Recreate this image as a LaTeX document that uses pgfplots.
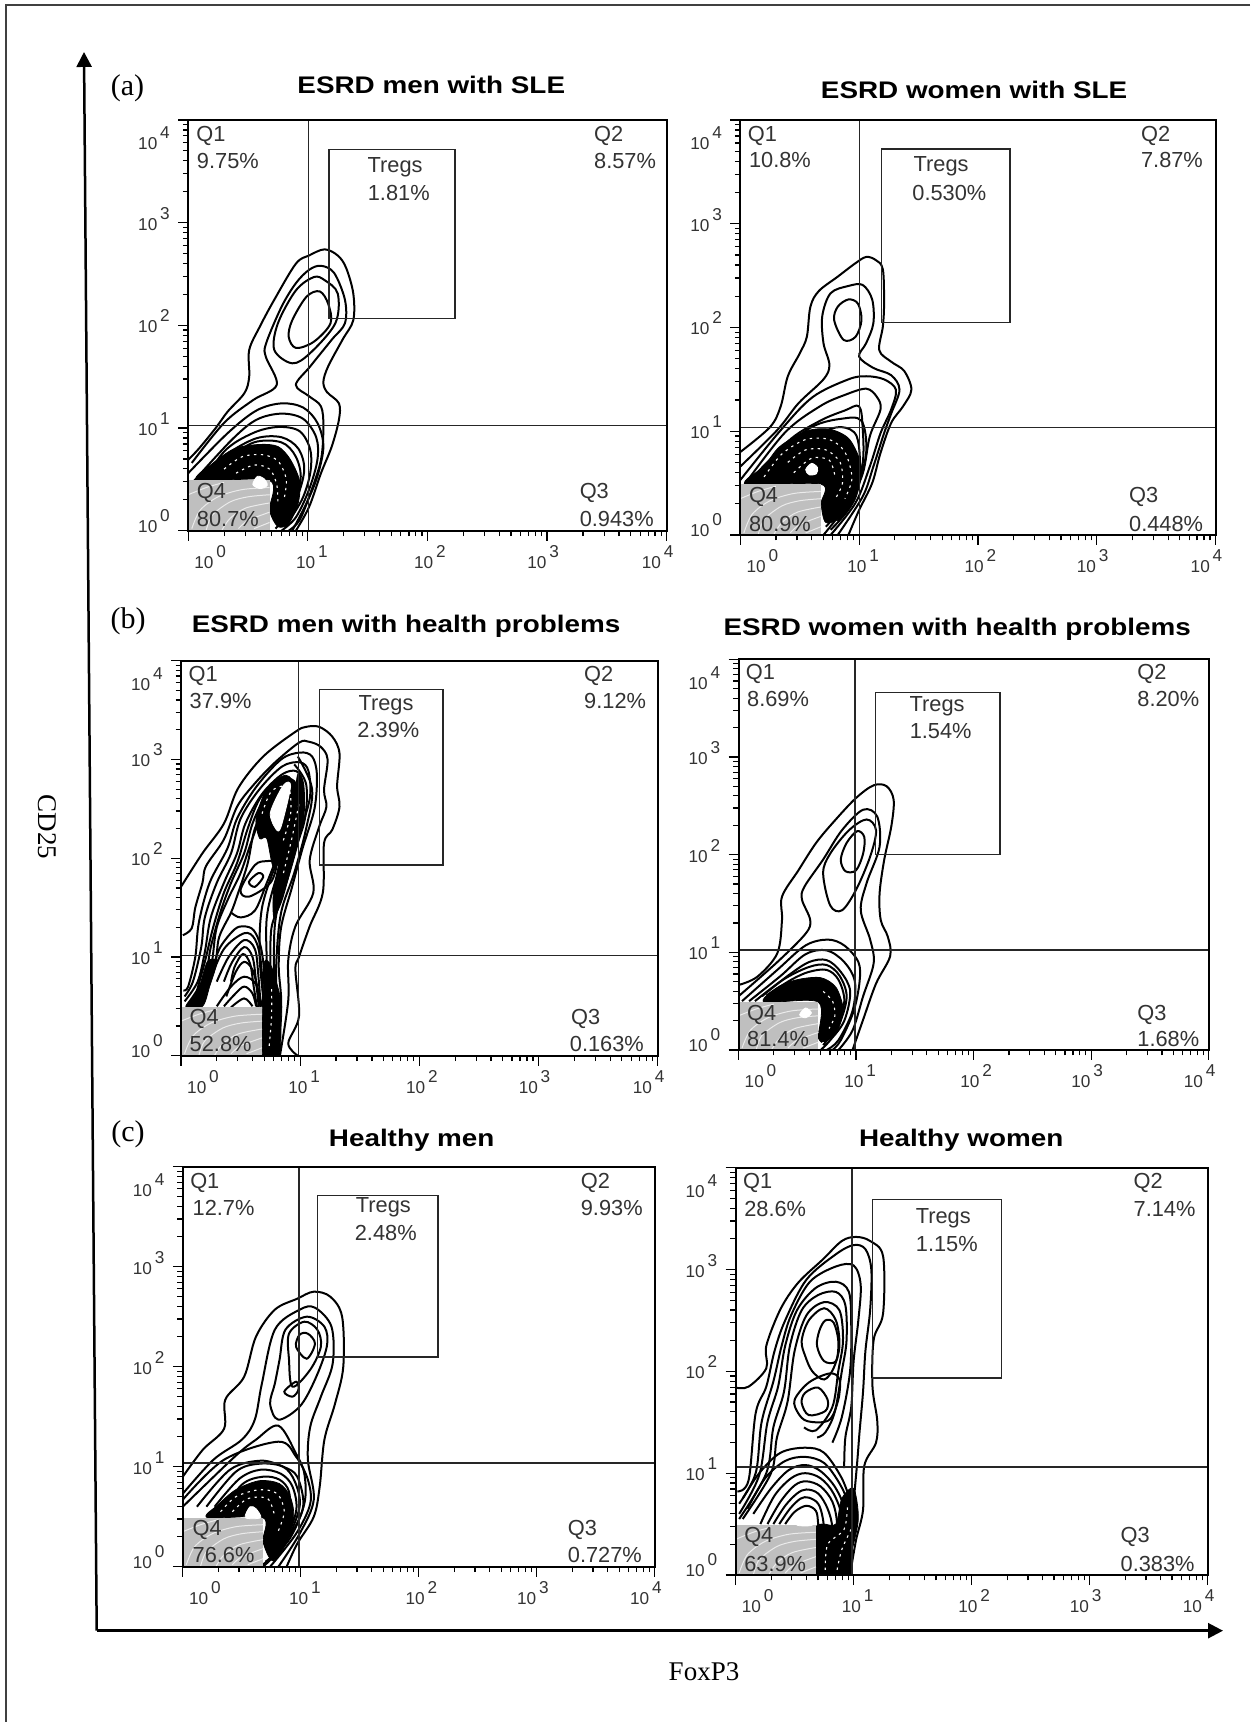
\documentclass[border=0pt]{standalone}
\usepackage{fontspec}
\usepackage{graphicx}
\usepackage{pgfplots}
\pgfplotsset{compat=1.18}
\usetikzlibrary{arrows.meta}
\setmainfont{Liberation Serif}
\newfontfamily\ar{Liberation Sans}
\definecolor{qg}{HTML}{BFBFBF}
\definecolor{tx}{HTML}{333333}
\newcommand\tkf{\ar\fontsize{8.6}{9}\selectfont\color{tx}}
\newcommand\xl[2]{\makebox[0pt]{\hspace*{#1pt}\hspace*{#1pt}\raisebox{0pt}[0pt][0pt]{\tkf 10\,\raisebox{5.5pt}{#2}}}}
\newcommand\yl[2]{\raisebox{-#1pt}[0pt][0pt]{\tkf 10\,\raisebox{5.5pt}{#2}}}
\newcommand\ttl[1]{\ar\bfseries\fontsize{12}{13}\selectfont\scalebox{1.16}[1]{#1}}
\pgfplotsset{panel/.style={scale only axis,xmin=0,xmax=4,ymin=0,ymax=4,
 axis on top,axis line style={line width=1pt},
 xtick={0,1,2,3,4},ytick={0,1,2,3,4},
 minor xtick={.301,.477,.602,.699,.778,.845,.903,.954,1.301,1.477,1.602,1.699,1.778,1.845,1.903,1.954,2.301,2.477,2.602,2.699,2.778,2.845,2.903,2.954,3.301,3.477,3.602,3.699,3.778,3.845,3.903,3.954},
 minor ytick={.301,.477,.602,.699,.778,.845,.903,.954,1.301,1.477,1.602,1.699,1.778,1.845,1.903,1.954,2.301,2.477,2.602,2.699,2.778,2.845,2.903,2.954,3.301,3.477,3.602,3.699,3.778,3.845,3.903,3.954},
 xticklabels={\xl{11}{0},\xl{2}{1},\xl{1.25}{2},\xl{-2}{3},\xl{-4.5}{4}},
 yticklabels={\yl{1}{0},\yl{3.75}{1},\yl{3.75}{2},\yl{3.75}{3},\yl{15}{4}},
 xtick pos=bottom,ytick pos=left,tick align=outside,
 major tick length=5pt,minor tick length=2.7pt,
 tick style={line width=.6pt,black},
 xticklabel style={anchor=north,inner sep=0pt},
 yticklabel style={anchor=east,inner sep=0pt},
 xticklabel shift=13pt,yticklabel shift=4pt,
 title style={anchor=center,inner sep=0pt,yshift=-6pt}},
 ct/.style={black,line width=1pt,smooth,tension=.55,mark=none},
 gate/.style={black!85,line width=.7pt,mark=none,sharp plot}}
\newcommand\ct[1]{\addplot[ct] coordinates {#1};}
\newcommand\rg[1]{\addplot[ct,smooth cycle] coordinates {#1};}
\newcommand\bk[1]{\addplot[black,fill=black,smooth cycle,mark=none] coordinates {#1};}
\newcommand\wh[1]{\addplot[white,fill=white,smooth cycle,mark=none] coordinates {#1};}
\newcommand\ds[1]{\addplot[white,line width=.55pt,dash pattern=on 1.2pt off 2.2pt,smooth,mark=none] coordinates {#1};}
\newcommand\gates[6]{\addplot[gate] coordinates {(#1,0)(#1,4)};\addplot[gate] coordinates {(0,#2)(4,#2)};\addplot[gate] coordinates {(#3,#5)(#4,#5)(#4,#6)(#3,#6)} -- cycle;}
\newcommand\qbox{\addplot[draw=none,fill=qg,mark=none,sharp plot] coordinates {(0,0)(.68,0)(.68,.49)(0,.49)} -- cycle;
 \addplot[white!92!black,line width=.5pt,smooth,mark=none] coordinates {(0,.35)(.15,.42)(.3,.47)};
 \addplot[white!92!black,line width=.5pt,smooth,mark=none] coordinates {(.03,.02)(.1,.2)(.25,.33)(.45,.4)(.68,.42)};
 \addplot[white!92!black,line width=.5pt,smooth,mark=none] coordinates {(.15,0)(.2,.15)(.35,.28)(.5,.33)(.68,.35)};
 \addplot[white!92!black,line width=.5pt,smooth,mark=none] coordinates {(.28,0)(.35,.12)(.48,.22)(.68,.27)};
 \addplot[white!92!black,line width=.5pt,smooth,mark=none] coordinates {(.42,.02)(.5,.1)(.68,.18)};
 \addplot[white!92!black,line width=.5pt,smooth,mark=none] coordinates {(.55,.02)(.68,.08)};}
\newcommand\Tw[3]{\node[anchor=west,inner sep=0pt,text=tx,font=\ar\fontsize{10.9}{12}\selectfont] at (axis cs:#1,#2) {#3};}
\newcommand\Tc[3]{\node[anchor=center,inner sep=0pt,text=tx,font=\ar\fontsize{10.9}{12}\selectfont] at (axis cs:#1,#2) {#3};}
\begin{document}
\begin{tikzpicture}
\useasboundingbox (0,0) rectangle (625pt,861pt);
\draw[line width=1pt,black!75] (625pt,858.25pt) -- (2.75pt,858.25pt) -- (2.75pt,0);
\draw[line width=1.25pt,-{Triangle[length=7.5pt,width=7.5pt]}] (48.35pt,45.65pt) -- (42pt,835pt);
\draw[line width=1.25pt,-{Triangle[length=7.5pt,width=7.5pt]}] (48.35pt,45.65pt) -- (611.5pt,45.65pt);
\node[font=\fontsize{13.5}{14}\selectfont] at (352pt,25pt) {FoxP3};
\node[font=\fontsize{13.5}{14}\selectfont,rotate=-90] at (23.5pt,447.5pt) {CD25};
\node[font=\fontsize{15}{16}\selectfont] at (63.75pt,817pt) {(a)};
\node[font=\fontsize{15}{16}\selectfont] at (64pt,550.5pt) {(b)};
\node[font=\fontsize{15}{16}\selectfont] at (64pt,294pt) {(c)};
% A1
\begin{axis}[panel,at={(94.1pt,595.65pt)},anchor=south west,width=239.25pt,height=205.35pt,
 title={\ttl{ESRD men with SLE}},title style={at={(axis description cs:.508,1.085)}}]
\ct{(0,.69)(.09,.80)(.23,1.0)(.33,1.16)(.47,1.34)(.51,1.5)(.51,1.76)(.60,1.99)(.72,2.25)(.90,2.60)(1.01,2.68)(1.14,2.74)(1.25,2.68)(1.32,2.56)(1.38,2.31)(1.38,2.05)(1.29,1.86)(1.17,1.60)(1.13,1.45)(1.16,1.35)(1.26,1.24)(1.26,1.08)(1.20,.82)(1.11,.56)(1.01,.23)(.90,0)}
\ct{(.03,.66)(.30,1.05)(.54,1.27)(.74,1.42)(.65,1.69)(.65,1.82)(.78,2.18)(.90,2.41)(1.01,2.54)(1.11,2.58)(1.22,2.51)(1.31,2.25)(1.31,2.02)(1.20,1.86)(1.02,1.60)(.90,1.42)(1.01,1.31)(1.11,1.21)(1.13,1.01)(1.11,.69)(1.02,.36)(.93,.10)(.84,0)}
\rg{(.72,1.76)(.87,1.63)(1.02,1.73)(1.23,2.02)(1.25,2.31)(1.14,2.44)(1.05,2.47)(.90,2.34)(.75,2.02)}
\rg{(.84,1.89)(.90,1.78)(1.05,1.84)(1.19,2.02)(1.17,2.21)(1.10,2.33)(.99,2.28)(.87,2.05)}
\ct{(0,.56)(.33,.95)(.57,1.17)(.78,1.24)(.96,1.20)(1.08,1.05)(1.13,.82)(1.08,.53)(.99,.27)(.87,0)}
\ct{(.03,.46)(.36,.88)(.57,1.08)(.78,1.14)(.96,1.09)(1.07,.91)(1.08,.69)(1.01,.40)(.90,.13)(.78,0)}
\ct{(.06,.36)(.30,.77)(.54,.95)(.75,1.01)(.93,.97)(1.02,.79)(1.02,.56)(.95,.30)(.81,.04)}
\ct{(.15,.56)(.33,.75)(.57,.90)(.78,.91)(.92,.80)(.97,.59)(.90,.30)(.75,.05)}
\ct{(.1,.5)(.3,.68)(.55,.86)(.78,.86)(.9,.72)(.94,.5)(.86,.22)(.73,.02)}
\bk{(.08,.49)(.21,.66)(.39,.8)(.60,.84)(.75,.82)(.85,.7)(.93,.49)(.92,.27)(.84,.07)(.75,.04)(.68,.2)(.68,.49)}
\ds{(.3,.6)(.45,.72)(.62,.74)(.75,.68)(.82,.5)(.8,.3)}
\ds{(.4,.56)(.55,.64)(.68,.6)(.74,.45)(.75,.25)}
\qbox
\wh{(.54,.45)(.58,.53)(.64,.50)(.66,.44)(.6,.41)}
\gates{1.005}{1.023}{1.177}{2.231}{2.068}{3.714}
\Tw{.065}{3.84}{Q1}\Tw{.07}{3.6}{9.75\%}\Tw{3.39}{3.84}{Q2}\Tw{3.39}{3.6}{8.57\%}
\Tc{1.73}{3.54}{Tregs}\Tc{1.76}{3.29}{1.81\%}\Tw{3.27}{.37}{Q3}\Tw{3.27}{.11}{0.943\%}\Tw{.07}{.37}{Q4}\Tw{.07}{.11}{80.7\%}
\end{axis}
% A2
\begin{axis}[panel,at={(370.15pt,593.5pt)},anchor=south west,width=237.6pt,height=207.5pt,
 title={\ttl{ESRD women with SLE}},title style={at={(axis description cs:.492,1.072)}}]
\ct{(0,.80)(.25,1.04)(.34,1.24)(.40,1.53)(.50,1.75)(.56,1.91)(.59,2.20)(.66,2.35)(.82,2.49)(.97,2.62)(1.06,2.68)(1.14,2.65)(1.20,2.56)(1.21,2.23)(1.20,2.01)(1.17,1.78)(1.27,1.67)(1.38,1.58)(1.44,1.40)(1.37,1.24)(1.27,1.08)(1.18,.79)(1.11,.50)(1.00,.24)(.91,0)}
\ct{(0,.66)(.31,1.01)(.49,1.27)(.70,1.50)(.75,1.64)(.70,1.85)(.69,2.11)(.76,2.33)(.91,2.40)(1.03,2.41)(1.11,2.27)(1.12,2.04)(1.06,1.85)(1.00,1.72)(1.12,1.61)(1.27,1.54)(1.34,1.40)(1.27,1.17)(1.21,.98)(1.12,.66)(1.03,.37)(.82,0)}
\rg{(.79,2.07)(.87,1.88)(.97,1.91)(1.02,2.07)(.99,2.23)(.91,2.27)(.82,2.20)}
\ct{(0,.53)(.34,1.01)(.61,1.33)(.91,1.50)(1.06,1.53)(1.21,1.50)(1.31,1.40)(1.27,1.21)(1.18,.98)(1.09,.66)(.97,.31)(.76,0)}
\ct{(0,.43)(.37,.98)(.67,1.24)(.88,1.35)(1.06,1.41)(1.15,1.33)(1.18,1.21)(1.09,.95)(1.03,.59)(.91,.31)(.70,0)}
\ct{(.12,.5)(.40,.90)(.67,1.10)(.88,1.20)(1.00,1.24)(1.03,1.03)(1.03,.69)(.94,.30)(.76,.05)}
\ct{(.06,.5)(.3,.78)(.6,1.04)(.85,1.12)(1.02,1.1)(1.06,.8)(.98,.45)(.82,.13)}
\ct{(.2,.5)(.4,.8)(.67,.98)(.85,1.04)(.98,.95)(1.0,.6)(.88,.3)(.72,.08)}
\bk{(.05,.49)(.2,.66)(.33,.85)(.55,1.00)(.75,1.02)(.92,.92)(1.02,.65)(.97,.35)(.85,.17)(.72,.12)(.68,.30)(.68,.49)}
\ds{(.2,.56)(.35,.78)(.55,.92)(.75,.92)(.88,.8)(.94,.55)(.88,.35)}
\ds{(.4,.7)(.55,.82)(.72,.82)(.84,.7)(.86,.5)(.8,.35)}
\ds{(.45,.6)(.6,.74)(.75,.72)(.8,.55)}
\qbox
\wh{(.55,.63)(.6,.69)(.65,.65)(.64,.59)(.58,.58)}
\gates{1.003}{1.035}{1.19}{2.27}{2.05}{3.72}
\Tw{.06}{3.85}{Q1}\Tw{.07}{3.61}{10.8\%}\Tw{3.37}{3.85}{Q2}\Tw{3.37}{3.61}{7.87\%}
\Tc{1.69}{3.55}{Tregs}\Tc{1.76}{3.3}{0.530\%}\Tw{3.27}{.37}{Q3}\Tw{3.27}{.11}{0.448\%}\Tw{.07}{.37}{Q4}\Tw{.07}{.11}{80.9\%}
\end{axis}
% B1
\begin{axis}[panel,at={(90.5pt,333.15pt)},anchor=south west,width=238.35pt,height=197.5pt,
 title={\ttl{ESRD men with health problems}},title style={at={(axis description cs:.472,1.088)}}]
\ct{(0,1.71)(.18,2.05)(.36,2.35)(.48,2.71)(.69,3.03)(.96,3.28)(1.05,3.33)(1.16,3.33)(1.27,3.23)(1.33,3.06)(1.31,2.73)(1.33,2.52)(1.27,2.29)(1.20,2.15)(1.19,1.65)(1.08,1.31)(.99,1.00)(.96,.87)(.99,.40)(.90,.125)(.98,0)}
\ct{(.015,1.22)(.09,1.29)(.12,1.5)(.18,1.75)(.21,1.92)(.36,2.19)(.47,2.52)(.60,2.73)(.78,2.96)(.99,3.17)(1.07,3.18)(1.17,3.13)(1.23,3.0)(1.20,2.69)(1.22,2.52)(1.16,2.32)(1.08,1.98)(1.11,1.65)(.96,1.31)(.90,.97)(.90,.56)(.83,0)}
\ct{(.02,.66)(.06,.70)(.12,1.0)(.15,1.35)(.24,1.75)(.39,2.1)(.47,2.4)(.63,2.72)(.84,3.0)(1.0,3.07)(1.1,3.03)(1.14,2.85)(1.12,2.5)(1.02,2.1)(.93,1.7)(.84,1.3)(.82,.9)(.84,.5)(.78,0)}
\ct{(.03,.6)(.1,.75)(.17,1.1)(.2,1.4)(.3,1.75)(.42,2.05)(.5,2.4)(.66,2.7)(.85,2.93)(1.0,2.97)(1.07,2.88)(1.08,2.6)(.98,2.2)(.87,1.8)(.79,1.35)(.78,.9)(.78,.5)(.72,0)}
\ct{(.03,.55)(.14,.75)(.2,1.05)(.25,1.4)(.36,1.75)(.47,2.05)(.54,2.35)(.68,2.65)(.85,2.85)(.97,2.88)(1.02,2.75)(1.0,2.5)(.92,2.2)(.8,1.8)(.72,1.4)(.72,.9)(.72,.5)(.68,.2)}
\ct{(.06,.53)(.2,.8)(.25,1.1)(.33,1.45)(.42,1.75)(.53,2.05)(.6,2.35)(.7,2.6)(.85,2.78)(.95,2.78)(.98,2.6)(.92,2.3)(.8,1.95)(.68,1.5)(.66,1.0)(.7,.5)}
\ct{(.15,.6)(.28,.9)(.32,1.2)(.42,1.45)(.48,1.65)(.56,1.95)(.62,2.3)(.73,2.55)(.85,2.7)(.93,2.65)(.93,2.35)(.82,2.05)(.72,1.75)(.62,1.47)(.5,1.4)(.42,1.45)}
\ct{(.12,.6)(.2,.95)(.27,1.3)(.36,1.65)(.47,1.95)(.56,2.3)(.66,2.6)(.82,2.82)}
\ct{(.2,.6)(.26,.95)(.3,1.3)(.4,1.6)(.5,1.85)(.6,2.2)(.7,2.5)(.85,2.72)}
\ct{(.95,2.95)(1.05,2.75)(1.04,2.4)(.95,2.05)(.85,1.6)(.76,1.3)(.75,.9)}
\ct{(.98,3.03)(1.1,2.7)(1.05,2.3)(.95,1.85)(.84,1.45)(.8,.95)(.8,.4)}
\bk{(.63,2.4)(.72,2.7)(.88,2.84)(.97,2.7)(.95,2.4)(.88,2.1)(.78,1.9)(.72,2.2)(.66,2.2)}
\bk{(.78,1.7)(.87,2.2)(.95,2.6)(.98,2.85)(1.03,2.75)(1.03,2.4)(.95,2.0)(.85,1.6)(.78,1.4)}
\ds{(.68,2.45)(.76,2.68)(.9,2.72)(.92,2.45)(.85,2.15)}
\ds{(.86,1.85)(.93,2.2)(.99,2.55)}
\rg{(.50,1.68)(.57,1.61)(.75,1.75)(.80,1.95)(.72,1.97)(.62,1.93)}
\rg{(.57,1.76)(.62,1.71)(.69,1.81)(.65,1.85)}
\wh{(.75,2.46)(.80,2.29)(.84,2.32)(.92,2.73)(.86,2.74)}
\ct{(.27,.9)(.33,1.1)(.45,1.28)(.53,1.31)(.61,1.27)(.67,1.1)(.7,.8)(.7,.4)}
\ct{(.24,.75)(.36,1.08)(.53,1.24)(.62,1.18)(.67,.95)(.69,.5)(.69,0)}
\ct{(.3,.75)(.4,1.0)(.53,1.17)(.62,1.08)(.65,.8)(.68,.3)}
\ct{(.36,.75)(.43,.95)(.53,1.10)(.6,1.0)(.63,.75)(.66,.4)}
\ct{(.42,.75)(.45,.9)(.52,1.03)(.58,.93)(.61,.7)(.65,.4)}
\ct{(.38,.6)(.46,.85)(.53,.95)(.6,.87)(.65,.65)(.68,.5)}
\ct{(.3,.5)(.42,.7)(.53,.80)(.63,.72)(.66,.5)}
\ct{(.36,.5)(.45,.62)(.53,.70)(.6,.63)(.63,.5)}
\ct{(.42,.49)(.53,.58)(.6,.5)}
\bk{(.69,0)(.69,.6)(.7,.95)(.76,.9)(.84,.55)(.84,.3)(.82,0)}
\bk{(.14,.65)(.22,.95)(.30,.95)(.24,.7)(.18,.5)(.04,.5)}
\ds{(.74,.1)(.76,.4)(.76,.7)}
\qbox
\gates{.988}{1.014}{1.16}{2.20}{1.93}{3.71}
\Tw{.06}{3.85}{Q1}\Tw{.07}{3.59}{37.9\%}\Tw{3.38}{3.85}{Q2}\Tw{3.38}{3.59}{9.12\%}
\Tc{1.72}{3.55}{Tregs}\Tc{1.74}{3.3}{2.39\%}\Tw{3.27}{.37}{Q3}\Tw{3.26}{.12}{0.163\%}\Tw{.07}{.37}{Q4}\Tw{.07}{.12}{52.8\%}
\end{axis}
% B2
\begin{axis}[panel,at={(369.25pt,336pt)},anchor=south west,width=235.1pt,height=195.35pt,
 title={\ttl{ESRD women with health problems}},title style={at={(axis description cs:.465,1.078)}}]
\ct{(0,.665)(.16,.75)(.33,.99)(.37,1.33)(.37,1.57)(.51,1.84)(.66,2.12)(.82,2.35)(1.0,2.58)(1.15,2.71)(1.26,2.70)(1.32,2.56)(1.30,2.29)(1.24,1.95)(1.20,1.60)(1.21,1.33)(1.27,1.16)(1.29,.96)(1.17,.68)(1.06,.31)(.97,0)}
\ct{(0,.55)(.33,.90)(.57,1.19)(.61,1.33)(.54,1.54)(.56,1.67)(.72,1.95)(.88,2.25)(1.06,2.46)(1.18,2.39)(1.20,2.08)(1.09,1.71)(1.04,1.43)(1.12,1.13)(1.15,.89)(1.06,.55)(.97,.2)(.85,0)}
\rg{(.72,1.81)(.78,1.48)(.88,1.43)(1.0,1.64)(1.12,1.98)(1.17,2.25)(1.09,2.36)(.94,2.25)(.78,2.01)}
\rg{(.87,1.95)(.91,1.83)(1.0,1.84)(1.06,2.01)(1.07,2.18)(1.01,2.24)(.92,2.12)}
\ct{(.03,.5)(.33,.82)(.57,1.07)(.76,1.13)(.9,1.07)(1.02,.9)(1.03,.7)(.98,.4)(.87,.1)(.80,0)}
\ct{(.09,.5)(.36,.76)(.57,.98)(.75,1.02)(.9,.9)(.99,.7)(.97,.4)(.85,.1)(.75,0)}
\ct{(.2,.55)(.42,.76)(.6,.9)(.75,.92)(.87,.8)(.95,.6)(.9,.3)(.78,.1)(.7,0)}
\ct{(.14,.5)(.38,.72)(.6,.85)(.75,.87)(.86,.76)(.92,.55)(.86,.28)(.72,.05)}
\ct{(.24,.56)(.45,.72)(.6,.8)(.75,.82)(.85,.72)(.9,.5)(.83,.25)(.7,.08)}
\bk{(.22,.49)(.33,.64)(.5,.72)(.7,.74)(.83,.64)(.89,.42)(.85,.22)(.76,.1)(.68,.12)(.68,.49)}
\ds{(.72,.6)(.8,.5)(.82,.35)(.77,.22)}
\qbox
\wh{(.52,.36)(.57,.43)(.62,.38)(.57,.33)}
\gates{.992}{1.024}{1.166}{2.226}{2.0}{3.66}
\Tw{.06}{3.85}{Q1}\Tw{.07}{3.59}{8.69\%}\Tw{3.39}{3.85}{Q2}\Tw{3.39}{3.59}{8.20\%}
\Tc{1.69}{3.52}{Tregs}\Tc{1.72}{3.27}{1.54\%}\Tw{3.39}{.36}{Q3}\Tw{3.39}{.11}{1.68\%}\Tw{.07}{.36}{Q4}\Tw{.07}{.11}{81.4\%}
\end{axis}
% C1
\begin{axis}[panel,at={(91.4pt,77.65pt)},anchor=south west,width=236pt,height=200pt,
 title={\ttl{Healthy men}},title style={at={(axis description cs:.485,1.067)}}]
\ct{(0,.9)(.17,1.17)(.35,1.38)(.36,1.67)(.52,1.9)(.62,2.3)(.78,2.57)(.97,2.68)(1.11,2.75)(1.25,2.70)(1.35,2.5)(1.36,2.0)(1.29,1.63)(1.2,1.27)(1.16,.8)(1.11,.5)(.97,.23)(.88,0)}
\ct{(0,.73)(.26,1.07)(.5,1.27)(.61,1.47)(.67,1.83)(.78,2.37)(.99,2.57)(1.12,2.59)(1.26,2.4)(1.27,2.03)(1.17,1.7)(1.08,1.4)(1.06,1.07)(1.11,.67)(.99,.33)(.81,0)}
\ct{(0,.67)(.35,1.07)(.81,1.25)(.96,1.1)(1.06,.87)(1.08,.63)(.96,.33)(.74,0)}
\ct{(0,.6)(.44,1.1)(.62,1.27)(.81,1.41)(.96,1.13)(1.03,.93)(1.03,.63)(.9,.27)(.68,0)}
\rg{(.74,1.63)(.81,1.47)(.99,1.6)(1.12,1.87)(1.22,2.2)(1.2,2.4)(1.05,2.5)(.87,2.37)(.82,2.07)(.78,1.83)}
\rg{(.93,1.8)(1.08,1.97)(1.17,2.2)(1.14,2.37)(1.03,2.45)(.9,2.33)(.9,2.07)}
\rg{(.86,1.75)(.93,1.7)(.98,1.77)(.96,1.85)}
\rg{(.96,2.2)(1.05,2.08)(1.12,2.23)(1.06,2.33)(.99,2.32)}
\ct{(.12,.6)(.4,.97)(.66,1.06)(.85,1.0)(.97,.9)(1.02,.6)(.9,.3)(.7,.03)}
\ct{(.2,.6)(.45,.95)(.65,1.03)(.85,1.0)(.95,.85)(.99,.6)(.87,.25)(.66,0)}
\ct{(.27,.6)(.48,.88)(.66,.97)(.83,.93)(.93,.8)(.96,.55)(.84,.2)(.7,.05)}
\ct{(.3,.5)(.5,.82)(.68,.9)(.82,.87)(.9,.75)(.9,.5)(.8,.2)}
\bk{(.21,.49)(.3,.62)(.45,.77)(.65,.86)(.82,.83)(.91,.7)(.94,.5)(.87,.22)(.76,.06)(.68,.25)(.68,.49)}
\ds{(.32,.55)(.45,.7)(.65,.77)(.8,.73)(.86,.55)(.8,.33)}
\ds{(.42,.55)(.55,.68)(.72,.68)(.78,.5)}
\qbox
\wh{(.53,.49)(.57,.6)(.62,.58)(.66,.49)}
\gates{.985}{1.037}{1.14}{2.164}{2.097}{3.713}
\Tw{.06}{3.84}{Q1}\Tw{.08}{3.59}{12.7\%}\Tw{3.37}{3.84}{Q2}\Tw{3.37}{3.59}{9.93\%}
\Tc{1.70}{3.59}{Tregs}\Tc{1.72}{3.34}{2.48\%}\Tw{3.26}{.37}{Q3}\Tw{3.26}{.12}{0.727\%}\Tw{.08}{.37}{Q4}\Tw{.08}{.12}{76.6\%}
\end{axis}
% C2
\begin{axis}[panel,at={(367.8pt,73.5pt)},anchor=south west,width=236pt,height=203.65pt,
 title={\ttl{Healthy women}},title style={at={(axis description cs:.478,1.068)}}]
\ct{(0,1.84)(.11,1.85)(.26,2.03)(.26,2.25)(.38,2.61)(.53,2.87)(.74,3.1)(.9,3.28)(1.02,3.32)(1.14,3.28)(1.25,3.13)(1.25,2.57)(1.17,2.31)(1.16,1.85)(1.2,1.52)(1.19,1.3)(1.09,1.07)(1.08,.64)(1.02,.34)(.97,0)}
\ct{(.015,.82)(.11,.93)(.17,1.59)(.26,1.85)(.33,2.2)(.42,2.5)(.6,2.9)(.85,3.15)(1.0,3.24)(1.1,3.2)(1.15,3.0)(1.14,2.6)(1.1,2.2)(1.08,1.8)(1.05,1.4)(1.03,1.1)(1.0,.7)(.98,.3)(.95,0)}
\ct{(.03,.7)(.17,1.0)(.22,1.5)(.32,1.9)(.39,2.25)(.47,2.55)(.63,2.88)(.85,3.03)(1.0,3.04)(1.06,2.85)(1.04,2.5)(1.0,2.1)(.98,1.65)(.93,1.35)(.92,1.05)}
\ct{(.03,.6)(.2,.98)(.27,1.5)(.36,1.85)(.42,2.25)(.52,2.6)(.68,2.82)(.85,2.88)(.96,2.78)(.98,2.45)(.97,2.0)(.9,1.55)(.82,1.3)}
\ct{(.03,.55)(.26,1.0)(.32,1.45)(.41,1.8)(.46,2.25)(.56,2.6)(.7,2.75)(.85,2.78)(.93,2.65)(.94,2.3)(.9,2.0)(.84,1.6)(.76,1.4)(.69,1.35)}
\ct{(.06,.55)(.3,1.0)(.35,1.35)(.44,1.7)(.5,2.2)(.6,2.55)(.75,2.68)(.88,2.6)(.91,2.3)(.87,2.0)(.82,1.65)(.68,1.42)(.58,1.45)}
\rg{(.56,2.3)(.62,2.5)(.75,2.62)(.85,2.5)(.88,2.25)(.83,2.03)(.75,1.92)(.65,2.0)(.59,2.15)}
\rg{(.69,2.25)(.75,2.1)(.85,2.1)(.87,2.3)(.83,2.48)(.76,2.5)(.71,2.4)}
\rg{(.53,1.59)(.61,1.51)(.79,1.52)(.87,1.72)(.88,1.92)(.8,1.98)(.62,1.89)(.5,1.72)}
\rg{(.56,1.69)(.62,1.57)(.76,1.61)(.78,1.72)(.7,1.84)(.59,1.79)}
\ct{(.06,.75)(.2,1.0)(.38,1.2)(.59,1.25)(.75,1.2)(.9,.95)(.98,.7)}
\ct{(.1,.65)(.25,.95)(.42,1.12)(.59,1.16)(.75,1.1)(.88,.9)(.95,.7)(.95,.4)}
\ct{(.15,.6)(.3,.85)(.45,1.03)(.59,1.08)(.72,1.02)(.85,.85)(.93,.6)(.92,.2)}
\ct{(.21,.5)(.33,.78)(.47,.95)(.59,1.0)(.72,.95)(.83,.8)(.9,.55)(.88,.1)}
\ct{(.27,.5)(.38,.72)(.5,.88)(.6,.92)(.72,.87)(.82,.72)(.86,.5)(.85,.15)}
\ct{(.32,.5)(.42,.68)(.52,.8)(.6,.84)(.7,.8)(.78,.65)(.82,.45)(.8,.1)}
\ct{(.37,.5)(.46,.65)(.55,.75)(.62,.76)(.7,.7)(.74,.55)(.76,.3)(.76,0)}
\ct{(.42,.5)(.5,.62)(.6,.68)(.68,.63)(.7,.5)(.72,.2)(.72,0)}
\bk{(.68,0)(.68,.45)(.74,.5)(.85,.5)(.9,.75)(1.0,.85)(1.04,.55)(.98,.2)(.96,0)}
\ds{(.76,.05)(.78,.3)(.92,.45)(.95,.7)}
\ds{(.86,.05)(.9,.25)(.98,.45)}
\qbox
\wh{(.52,.49)(.56,.56)(.62,.58)(.65,.49)}
\gates{.988}{1.059}{1.158}{2.255}{1.934}{3.685}
\Tw{.06}{3.85}{Q1}\Tw{.07}{3.59}{28.6\%}\Tw{3.37}{3.85}{Q2}\Tw{3.37}{3.59}{7.14\%}
\Tc{1.76}{3.5}{Tregs}\Tc{1.79}{3.25}{1.15\%}\Tw{3.26}{.37}{Q3}\Tw{3.26}{.11}{0.383\%}\Tw{.07}{.37}{Q4}\Tw{.07}{.11}{63.9\%}
\end{axis}
\end{tikzpicture}
\end{document}
